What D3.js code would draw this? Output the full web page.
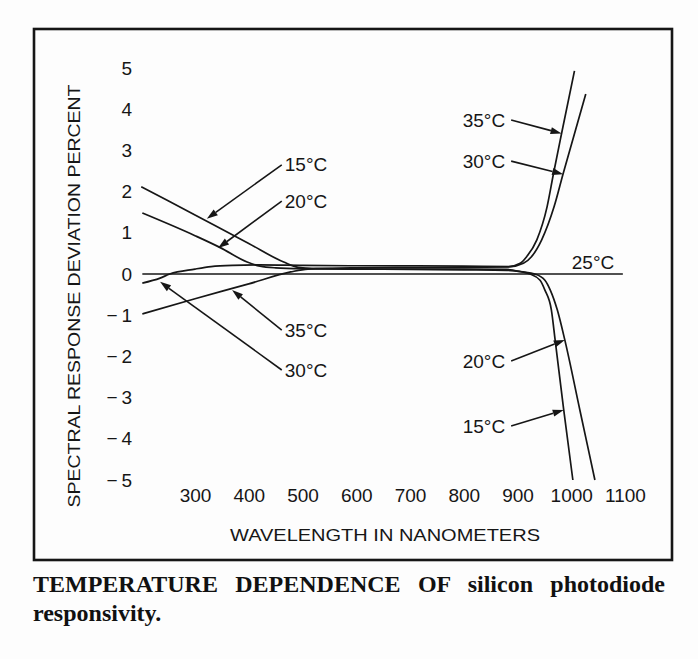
<!DOCTYPE html>
<html>
<head>
<meta charset="utf-8">
<script src="https://cdn.jsdelivr.net/npm/d3@7"></script>
<style>
  html, body { margin: 0; padding: 0; background: #fdfdfd; }
  svg { display: block; }
</style>
</head>
<body>
<svg id="chart" width="698" height="659"></svg>
<script>
// Spectral response deviation (percent) of a silicon photodiode vs wavelength,
// relative to the 25 °C response, for several operating temperatures.
const wavelengthTicks = [300, 400, 500, 600, 700, 800, 900, 1000, 1100];
const deviationTicks = [5, 4, 3, 2, 1, 0, -1, -2, -3, -4, -5];
const temperatures = ["15°C", "20°C", "25°C", "30°C", "35°C"];

// [wavelength nm, deviation %]
const curve15 = [[200, 2.12], [300, 1.43], [400, 0.74], [465, 0.29], [492, 0.16], [520, 0.13],
  [600, 0.12], [700, 0.12], [800, 0.12], [880, 0.11], [905, 0.06], [923, 0.0], [942, -0.15],
  [951, -0.39], [963, -0.87], [970, -1.6], [986, -3.3], [1003, -5.0]];
const curve20 = [[202, 1.48], [300, 0.93], [347, 0.64], [397, 0.29], [421, 0.19], [450, 0.15],
  [500, 0.13], [600, 0.12], [700, 0.11], [800, 0.1], [880, 0.09], [910, 0.05], [932, 0.0],
  [951, -0.15], [961, -0.39], [974, -0.87], [988, -1.6], [1016, -3.3], [1044, -5.0]];
const curve25 = [[202, 0], [1096, 0]];
const curve30 = [[202, -0.22], [235, -0.1], [253, 0.0], [300, 0.12], [330, 0.18], [370, 0.21],
  [420, 0.22], [500, 0.21], [600, 0.2], [700, 0.2], [800, 0.19], [886, 0.18], [911, 0.26],
  [926, 0.42], [945, 0.83], [968, 1.63], [985, 2.44], [1027, 4.37]];
const curve35 = [[202, -0.97], [300, -0.6], [400, -0.24], [478, 0.05], [510, 0.12], [600, 0.15],
  [700, 0.16], [800, 0.16], [880, 0.17], [905, 0.26], [917, 0.42], [936, 0.83], [955, 1.63],
  [967, 2.44], [982, 3.41], [1006, 4.93]];
const curves = [curve15, curve20, curve25, curve30, curve35];

// Callout labels: text position, arrow tip (both in data units)
const callouts = [
  { label: "15°C", side: "left",  at: [467, 2.65],  tip: [322, 1.34] },
  { label: "20°C", side: "left",  at: [467, 1.77],  tip: [343, 0.63] },
  { label: "35°C", side: "left",  at: [467, -1.36], tip: [369, -0.39] },
  { label: "30°C", side: "left",  at: [467, -2.33], tip: [235, -0.19] },
  { label: "35°C", side: "right", at: [877, 3.74],  tip: [982, 3.41] },
  { label: "30°C", side: "right", at: [877, 2.74],  tip: [985, 2.42] },
  { label: "20°C", side: "right", at: [877, -2.11], tip: [988, -1.6] },
  { label: "15°C", side: "right", at: [877, -3.69], tip: [986, -3.3] },
  { label: "25°C", side: "none",  at: [1001, 0.29], tip: null }
];

const captionLine1 = ["TEMPERATURE DEPENDENCE OF", "silicon photodiode"];
const captionLine2 = "responsivity.";

const svg = d3.select("#chart");
const ink = "#161616";
const sans = "'Liberation Sans', Arial, Helvetica, sans-serif";

const x = d3.scaleLinear().domain([300, 1100]).range([195, 625]);
const y = d3.scaleLinear().domain([-5, 5]).range([480, 68]);

// Frame
svg.append("rect")
  .attr("x", 34).attr("y", 29).attr("width", 638).attr("height", 531)
  .attr("fill", "none").attr("stroke", ink).attr("stroke-width", 2.6);

// Axes: labels only, no rules
const fmt = d => d < 0 ? "\u2212\u2009" + (-d) : String(d);
const yAxis = svg.append("g")
  .attr("transform", "translate(132,0)")
  .call(d3.axisLeft(y).tickValues(deviationTicks).tickSize(0).tickPadding(0).tickFormat(fmt));
const xAxis = svg.append("g")
  .attr("transform", "translate(0,488)")
  .call(d3.axisBottom(x).tickValues(wavelengthTicks).tickSize(0).tickPadding(0).tickFormat(d3.format("d")));
[yAxis, xAxis].forEach(g => {
  g.select(".domain").remove();
  g.selectAll("text").attr("fill", ink).style("font-family", sans).style("font-size", "19px");
});

// Axis titles
svg.append("text")
  .attr("x", 385).attr("y", 541)
  .attr("text-anchor", "middle")
  .attr("textLength", 310).attr("lengthAdjust", "spacingAndGlyphs")
  .style("font-family", sans).style("font-size", "17px").attr("fill", ink)
  .text("WAVELENGTH IN NANOMETERS");
svg.append("text")
  .attr("transform", "translate(80,296) rotate(-90)")
  .attr("text-anchor", "middle")
  .attr("textLength", 423).attr("lengthAdjust", "spacingAndGlyphs")
  .style("font-family", sans).style("font-size", "17px").attr("fill", ink)
  .text("SPECTRAL RESPONSE DEVIATION PERCENT");

// Curves
const line = d3.line().x(d => x(d[0])).y(d => y(d[1])).curve(d3.curveMonotoneX);
svg.append("g").selectAll("path")
  .data(curves)
  .join("path")
  .attr("d", line)
  .attr("fill", "none")
  .attr("stroke", ink)
  .attr("stroke-width", 1.7)
  .attr("stroke-linejoin", "round");

// Callouts with arrows
const cg = svg.append("g");
callouts.forEach(c => {
  const px = x(c.at[0]), py = y(c.at[1]);
  cg.append("text")
    .attr("x", px).attr("y", py)
    .attr("dy", "0.35em")
    .attr("text-anchor", c.side === "right" ? "end" : "start")
    .style("font-family", sans).style("font-size", "19px").attr("fill", ink)
    .text(c.label);
  if (!c.tip) return;
  const sx = c.side === "right" ? px + 6 : px - 3;
  const sy = py;
  const tx = x(c.tip[0]), ty = y(c.tip[1]);
  const ang = Math.atan2(ty - sy, tx - sx);
  const len = 11, hw = 3.6;
  const bx = tx - len * Math.cos(ang), by = ty - len * Math.sin(ang);
  cg.append("line")
    .attr("x1", sx).attr("y1", sy).attr("x2", bx).attr("y2", by)
    .attr("stroke", ink).attr("stroke-width", 1.6);
  cg.append("polygon")
    .attr("points", [
      [tx, ty],
      [bx + hw * Math.sin(ang), by - hw * Math.cos(ang)],
      [bx - hw * Math.sin(ang), by + hw * Math.cos(ang)]
    ].map(p => p.join(",")).join(" "))
    .attr("fill", ink);
});

// Caption, first line justified across the frame width
const serif = "'Liberation Serif', 'Times New Roman', Times, serif";
const capLeft = 33, capRight = 665;
const cap1 = svg.append("text")
  .attr("x", capLeft).attr("y", 592)
  .style("font-family", serif).style("font-size", "24px").style("font-weight", "bold")
  .attr("fill", "#111")
  .text(captionLine1.join(" "));
const w1 = cap1.node().getComputedTextLength();
const spaces = captionLine1.join(" ").split(" ").length - 1;
if (w1 < capRight - capLeft) {
  cap1.style("word-spacing", ((capRight - capLeft - w1) / spaces) + "px");
} else {
  cap1.attr("textLength", capRight - capLeft).attr("lengthAdjust", "spacingAndGlyphs");
}
svg.append("text")
  .attr("x", capLeft).attr("y", 621)
  .style("font-family", serif).style("font-size", "24px").style("font-weight", "bold")
  .attr("fill", "#111")
  .text(captionLine2);
</script>
</body>
</html>
